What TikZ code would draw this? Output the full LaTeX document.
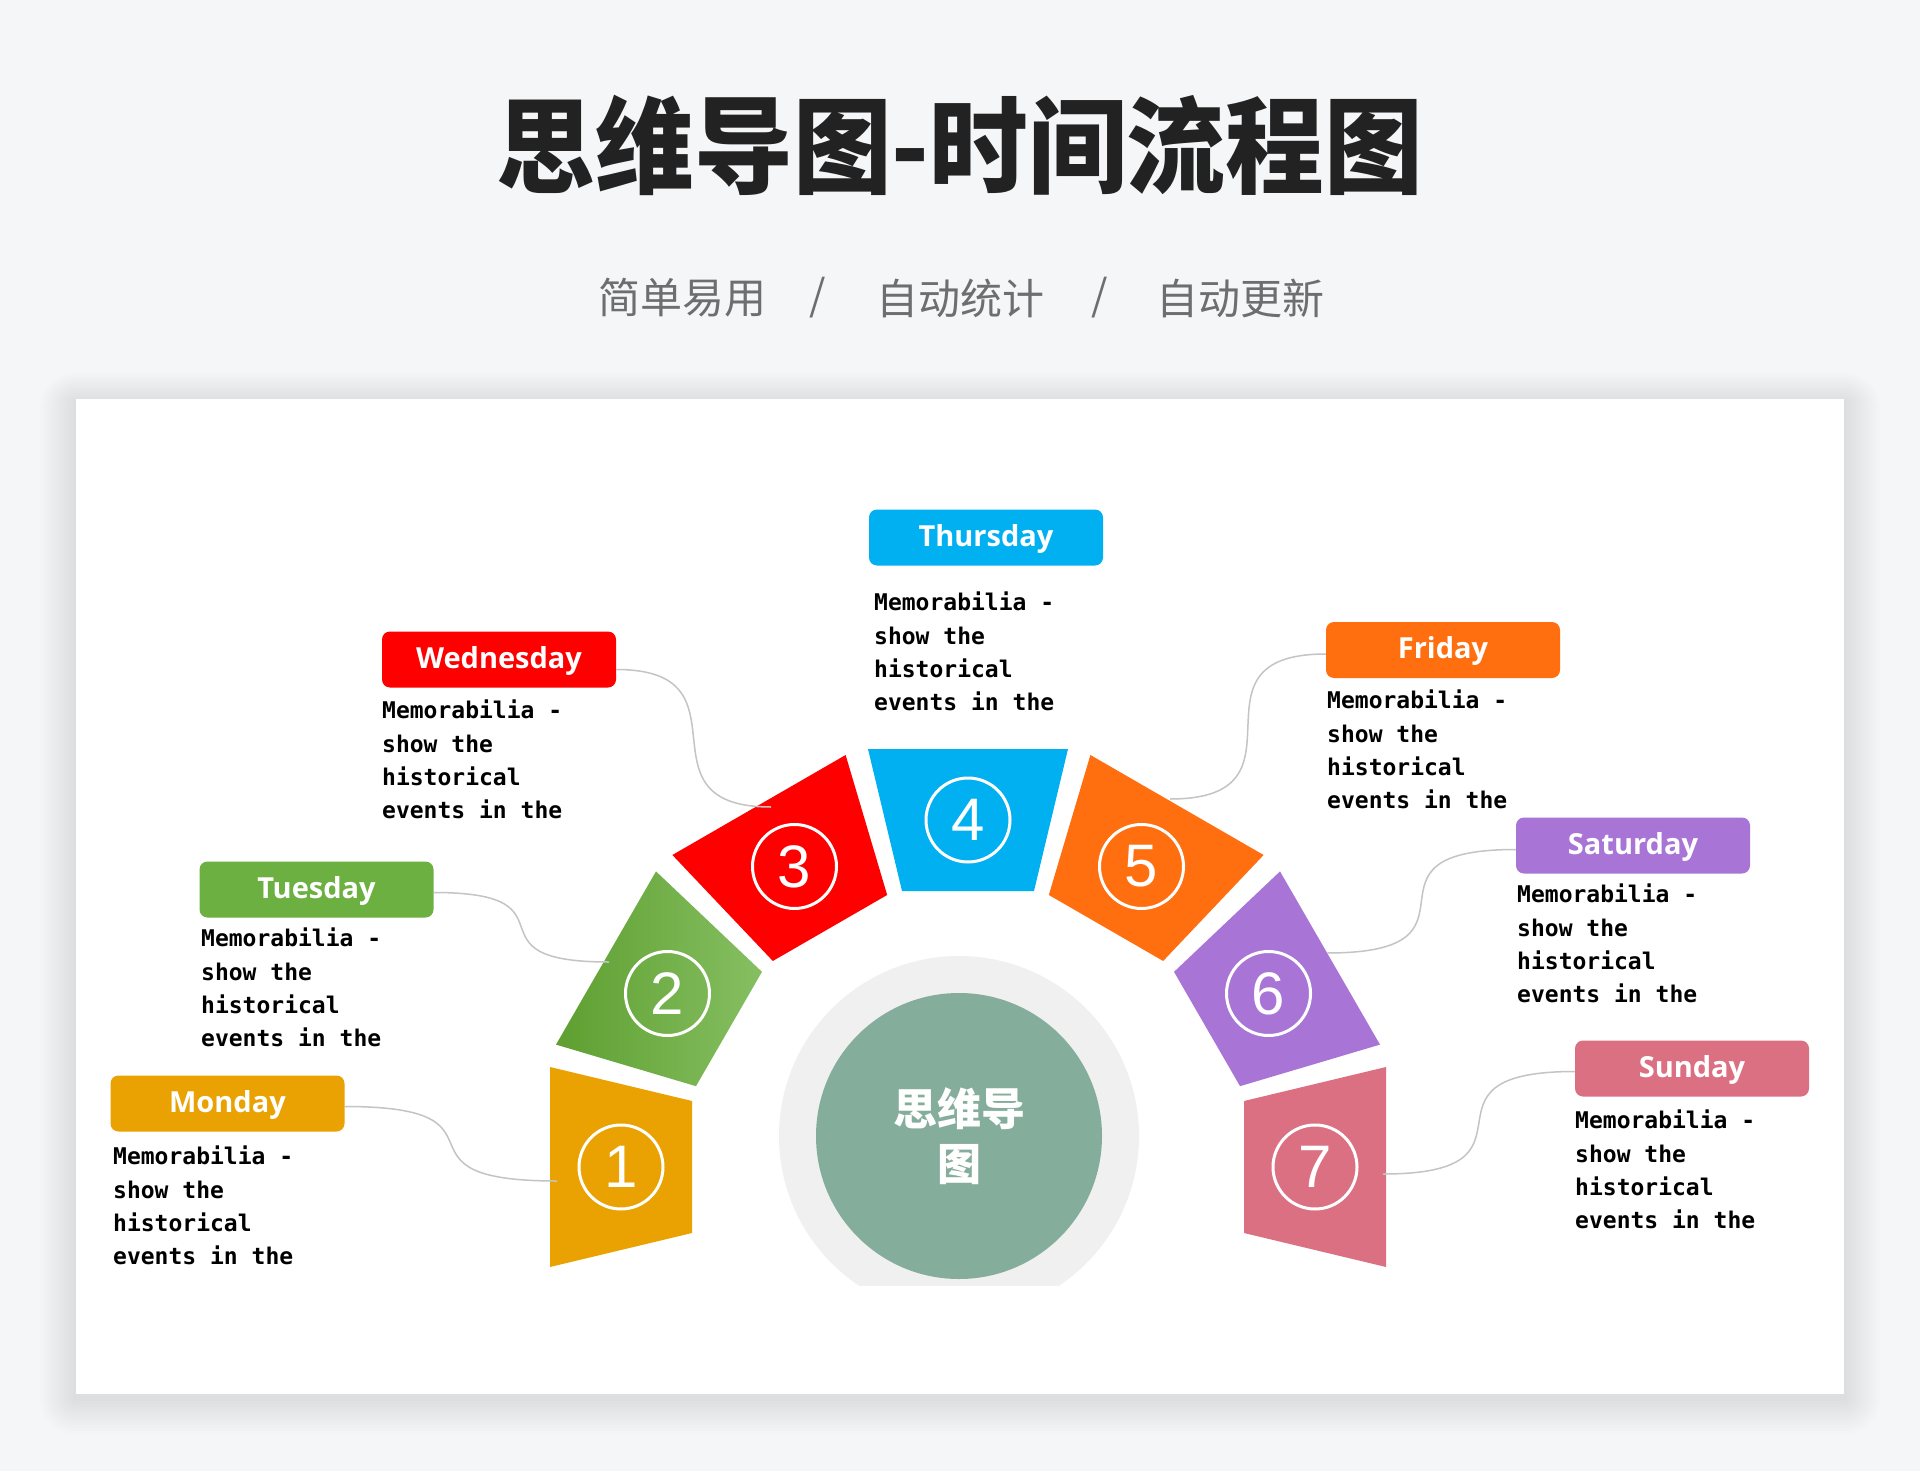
\documentclass[tikz,border=0pt]{standalone}
\usepackage{fontspec}
\usepackage{graphicx}
\newfontfamily\cjk{Noto Sans CJK SC}
\newfontfamily\dayfont{Open Sans}
\newfontfamily\bodyfont{DejaVu Sans Mono}
\newfontfamily\numfont{Liberation Sans}
\usetikzlibrary{calc}
\definecolor{bg}{HTML}{F5F6F8}
\definecolor{titlec}{HTML}{222222}
\definecolor{subc}{HTML}{6E6E6E}
\definecolor{sega}{HTML}{E9A201}
\definecolor{segbd}{HTML}{5E9F30}
\definecolor{segbl}{HTML}{86BF62}
\definecolor{segb}{HTML}{6BB040}
\definecolor{segc}{HTML}{FE0000}
\definecolor{segd}{HTML}{00B0F0}
\definecolor{sege}{HTML}{FF6E0F}
\definecolor{segf}{HTML}{A875D6}
\definecolor{segg}{HTML}{DC7083}
\definecolor{sage}{HTML}{84AD9B}
\definecolor{ring}{HTML}{F0F0F0}
\definecolor{linegray}{HTML}{C4C4C4}
\begin{document}
\begin{tikzpicture}[x=1pt,y=-1pt,
  daybox/.style={rounded corners=8pt, minimum width=234pt, minimum height=56pt, inner sep=0pt,
    text=white, text height=22pt, text depth=5pt, font=\dayfont\bfseries\fontsize{29}{29}\selectfont},
  bodytext/.style={anchor=north west, inner sep=0pt, align=left,
    font=\bodyfont\bfseries\fontsize{23}{33.3}\selectfont, text=black},
  numcirc/.style={circle, draw=white, line width=3pt, minimum size=84pt, inner sep=0pt,
    text=white, font=\numfont\fontsize{60}{60}\selectfont},
  conn/.style={draw=linegray, line width=1.5pt},
  subt/.style={font=\cjk\fontsize{42}{42}\selectfont, text=subc, inner sep=0pt},
  seg1/.style={fill=sega}, seg2/.style={left color=segbd, right color=segbl},
  seg3/.style={fill=segc}, seg4/.style={fill=segd}, seg5/.style={fill=sege},
  seg6/.style={fill=segf}, seg7/.style={fill=segg}
]
\useasboundingbox (0,0) rectangle (1920,1471);
\fill[bg] (0,0) rectangle (1920,1471);

% card shadow
\foreach \i in {1,...,12}
  \fill[black, opacity=0.007, rounded corners={3*\i}] ({76-3*\i},{403-2.5*\i}) rectangle ({1844+3*\i},{1398+3*\i});
\fill[white] (76,399) rectangle (1844,1394);

% title and subtitle
\node[font=\cjk\bfseries\fontsize{105}{105}\selectfont, text=titlec, inner sep=0pt] (title) at (960,145) {\scalebox{0.94}[1]{思维导图-时间流程图}};
\node[subt] (sub1) at (682,298) {简单易用};
\node[subt] (sl1) at (818,298) {/};
\node[subt] (sub2) at (960,298) {自动统计};
\node[subt] (sl2) at (1100,298) {/};
\node[subt] (sub3) at (1240,298) {自动更新};

% central circle
\begin{scope}
  \clip (700,900) rectangle (1220,1285);
  \fill[ring] (959,1136) circle[radius=180pt];
\end{scope}
\node[circle, fill=sage, minimum size=286pt, inner sep=0pt, text=white, align=center,
  font=\cjk\bfseries\fontsize{44}{55}\selectfont] (hub) at (959,1136) {思维导\\图};

% segments
\begin{scope}[shift={(968,1167)}]
  \foreach \ang [count=\k] in {180,150,120,90,60,30,0} {
    \path[seg\k, rotate=\ang] (276,-66) -- (418,-100) -- (418,100) -- (276,66) -- cycle;
    \node[numcirc] (n\k) at (-\ang:347) {\k};
  }
\end{scope}

% connector end points on the segments
\coordinate (c1) at (557,1181);
\coordinate (c2) at (609,962);
\coordinate (c3) at (771,807);
\coordinate (c5) at (1170,799);
\coordinate (c6) at (1327,953);
\coordinate (c7) at (1383,1174);

% day labels
\node[daybox, fill=sega] (mon) at (227.5,1103.5) {Monday};
\node[daybox, fill=segb] (tue) at (316.5,889.5) {Tuesday};
\node[daybox, fill=segc] (wed) at (499,659.5) {Wednesday};
\node[daybox, fill=segd] (thu) at (986,537.5) {Thursday};
\node[daybox, fill=sege] (fri) at (1443,650) {Friday};
\node[daybox, fill=segf] (sat) at (1633,845.5) {Saturday};
\node[daybox, fill=segg] (sun) at (1692,1068.5) {Sunday};

% body texts
\node[bodytext] (tmon) at (113,1146) {Memorabilia -\\show the\\historical\\events in the};
\node[bodytext] (ttue) at (201,928) {Memorabilia -\\show the\\historical\\events in the};
\node[bodytext] (twed) at (382,700) {Memorabilia -\\show the\\historical\\events in the};
\node[bodytext] (tthu) at (874,592) {Memorabilia -\\show the\\historical\\events in the};
\node[bodytext] (tfri) at (1327,690) {Memorabilia -\\show the\\historical\\events in the};
\node[bodytext] (tsat) at (1517,884) {Memorabilia -\\show the\\historical\\events in the};
\node[bodytext] (tsun) at (1575,1110) {Memorabilia -\\show the\\historical\\events in the};

% connectors
\draw[conn] ([yshift=-3pt]mon.east) .. controls +(180,0) and +(-180,0) .. (c1);
\draw[conn] ([yshift=-3pt]tue.east) .. controls +(150,0) and +(-150,0) .. (c2);
\draw[conn] ([yshift=-10pt]wed.east) .. controls +(140,0) and +(-140,0) .. (c3);
\draw[conn] ([yshift=-4pt]fri.west) .. controls +(-150,0) and +(150,0) .. (c5);
\draw[conn] ([yshift=-4pt]sat.west) .. controls +(-175,0) and +(175,0) .. (c6);
\draw[conn] ([yshift=-3pt]sun.west) .. controls +(-175,0) and +(175,0) .. (c7);
\end{tikzpicture}
\end{document}
